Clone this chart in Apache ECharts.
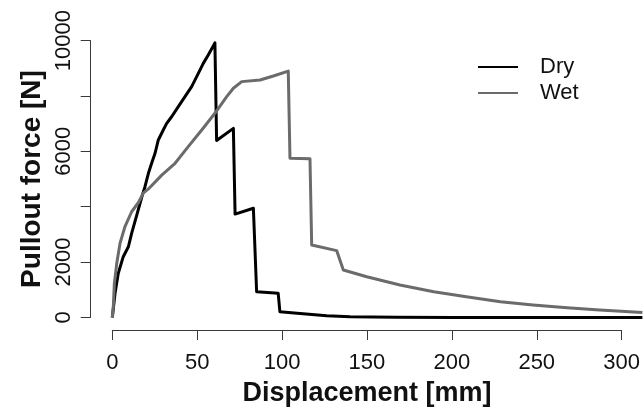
<!DOCTYPE html>
<html>
<head>
<meta charset="utf-8">
<script src="https://cdn.jsdelivr.net/npm/echarts@6/dist/echarts.min.js"></script>
<style>
  html, body { margin: 0; padding: 0; background: #fff; }
  #chart { width: 643px; height: 412px; }
</style>
</head>
<body>
<div id="chart"></div>
<script>
// Pullout force versus displacement, dry and wet specimens
const dryDisp = [0, 1.6, 3.5, 6.4, 9.4, 11.3, 14.3, 17.2, 19.1, 21.1, 23, 25, 26.9, 29.8, 31.8, 34.7, 38.6, 42.5, 46.4, 50.3, 53.2, 56.1, 60,
                 61, 70.8, 71.8, 82.5, 84.4, 97, 98, 109.8, 125.4, 139, 166, 200, 250, 310];
const dryForce = [0, 875, 1600, 2200, 2560, 3045, 3700, 4350, 4730, 5215, 5577, 5940, 6420, 6780, 7020, 7260, 7625, 7985, 8350, 8830, 9190, 9495, 9930,
                  6400, 6840, 3740, 3950, 930, 880, 210, 150, 65, 30, 7, 0, 0, 0];

const wetDisp = [0, 0.6, 1.2, 2.6, 4.5, 7.4, 11.3, 15.2, 18.1, 21.1, 28.9, 36.7, 44.4, 52.3, 60, 66.9, 70.8, 75.7, 86.4, 94.2, 102.9,
                 103.9, 115.6, 116.6, 131.2, 135.1, 148.8, 168.2, 188, 207, 227, 246, 266, 285, 310];
const wetForce = [0, 400, 1235, 1960, 2680, 3285, 3825, 4150, 4500, 4650, 5150, 5577, 6180, 6780, 7385, 7985, 8290, 8530, 8590, 8735, 8910,
                  5760, 5740, 2620, 2420, 1718, 1476, 1175, 935, 752, 571, 452, 354, 271, 180];

const seriesNames = ['Dry', 'Wet'];
const yTickLabels = ['0', '2000', '6000', '10000'];

const toPairs = (xs, ys) => xs.map((x, i) => [x, ys[i]]);

const font = 'Liberation Sans, Arial, Helvetica, sans-serif';
const axisColor = '#3a3a3a';

const chart = echarts.init(document.getElementById('chart'), null, { renderer: 'canvas' });

chart.setOption({
  animation: false,
  backgroundColor: '#fff',
  textStyle: { fontFamily: font },
  grid: [
    // plotting region
    { left: 91, top: 29.9, width: 552, height: 298.7 },
    // frame for the displacement axis
    { left: 112.3, top: 29.9, width: 513, height: 300.8 },
    // frame for the force axis
    { left: 90.7, top: 40.7, width: 20, height: 276.6 }
  ],
  legend: {
    orient: 'vertical',
    left: 473,
    top: 51,
    itemWidth: 40,
    itemHeight: 2,
    itemGap: 4,
    icon: 'rect',
    data: seriesNames,
    textStyle: { fontSize: 22, color: '#111', fontFamily: font, padding: [0, 0, 0, 17] }
  },
  xAxis: [
    { gridIndex: 0, type: 'value', min: -12.46, max: 310.35, show: false },
    {
      gridIndex: 1, type: 'value', min: 0, max: 300, interval: 50,
      name: 'Displacement [mm]', nameLocation: 'middle', nameGap: 50,
      nameTextStyle: { fontSize: 27, fontWeight: 'bold', color: '#111', fontFamily: font },
      axisLine: { show: true, lineStyle: { color: axisColor, width: 1 } },
      axisTick: { show: true, length: 10, lineStyle: { color: axisColor, width: 1 } },
      axisLabel: { fontSize: 22, color: '#111', margin: 22, fontFamily: font },
      splitLine: { show: false }
    },
    { gridIndex: 2, type: 'value', show: false }
  ],
  yAxis: [
    { gridIndex: 0, type: 'value', min: -400, max: 10400, show: false },
    { gridIndex: 1, type: 'value', show: false },
    {
      gridIndex: 2, type: 'value', min: 0, max: 10000, interval: 2000, position: 'left',
      name: 'Pullout force [N]', nameLocation: 'middle', nameGap: 44,
      nameTextStyle: { fontSize: 28, fontWeight: 'bold', color: '#111', fontFamily: font },
      axisLine: { show: true, lineStyle: { color: axisColor, width: 1 } },
      axisTick: { show: true, length: 10, lineStyle: { color: axisColor, width: 1 } },
      axisLabel: {
        fontSize: 22, color: '#111', margin: 16, rotate: 90, fontFamily: font,
        formatter: v => (yTickLabels.includes(String(v)) ? String(v) : '')
      },
      splitLine: { show: false }
    }
  ],
  series: [
    {
      name: seriesNames[0], type: 'line', xAxisIndex: 0, yAxisIndex: 0,
      data: toPairs(dryDisp, dryForce),
      showSymbol: false, symbol: 'none', color: '#000',
      lineStyle: { color: '#000', width: 3, join: 'round' }
    },
    {
      name: seriesNames[1], type: 'line', xAxisIndex: 0, yAxisIndex: 0,
      data: toPairs(wetDisp, wetForce),
      showSymbol: false, symbol: 'none', color: '#6b6b6b',
      lineStyle: { color: '#6b6b6b', width: 3, join: 'round' }
    }
  ]
});
</script>
</body>
</html>
